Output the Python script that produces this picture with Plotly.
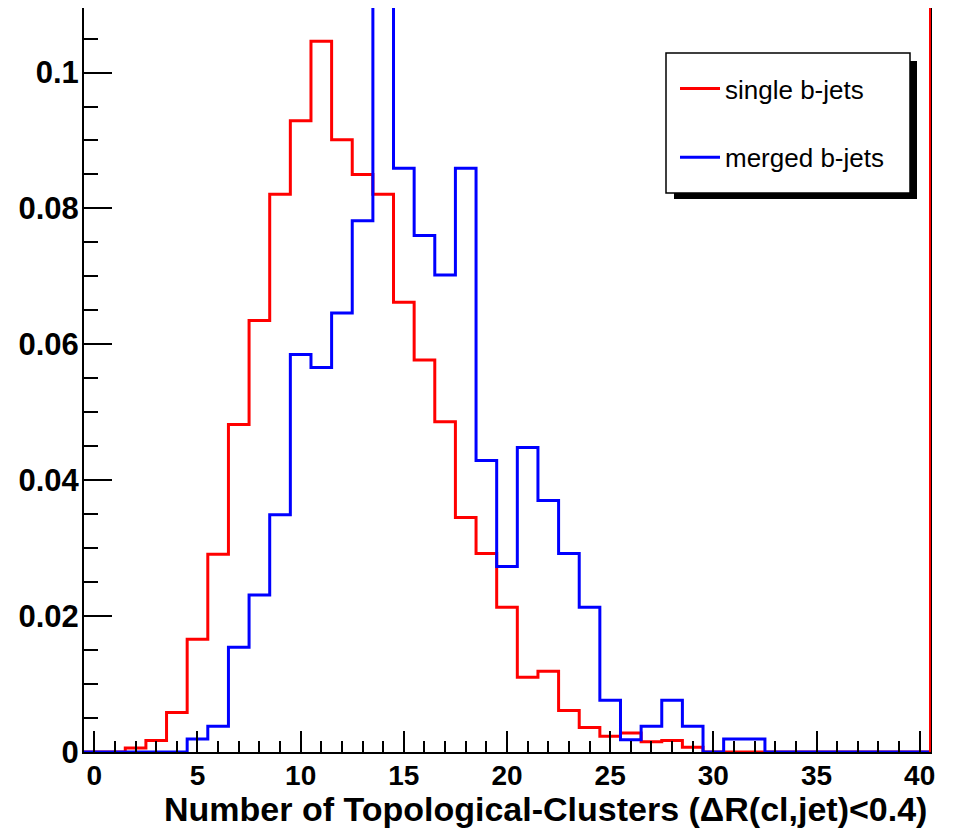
import plotly.graph_objects as go

# Bin centres 0..40 (unit-width bins from -0.5 to 40.5)
bin_centers = list(range(41))
single_bjets = [0, 0, 0.0006, 0.0017, 0.0058, 0.0166, 0.0291, 0.0482, 0.0635, 0.0821,
                0.0929, 0.1046, 0.0901, 0.0850, 0.0821, 0.0662, 0.0577, 0.0486, 0.0345, 0.0292,
                0.0213, 0.0110, 0.0119, 0.0061, 0.0036, 0.0023, 0.0028, 0.0015, 0.0017, 0.0007,
                0, 0, 0, 0, 0, 0, 0, 0, 0, 0, 0]
merged_bjets = [0, 0, 0, 0, 0, 0.0019, 0.0038, 0.0154, 0.0231, 0.0349,
                0.0585, 0.0566, 0.0646, 0.0782, 0.1250, 0.0859, 0.0760, 0.0702, 0.0859, 0.0429,
                0.0273, 0.0448, 0.0370, 0.0292, 0.0213, 0.0076, 0.0018, 0.0038, 0.0076, 0.0038,
                0, 0.0019, 0.0019, 0, 0, 0, 0, 0, 0, 0, 0]
y_tickvals = [0, 0.02, 0.04, 0.06, 0.08, 0.1]
y_ticktext = ["0", "0.02", "0.04", "0.06", "0.08", "0.1"]
x_tickvals = [0, 5, 10, 15, 20, 25, 30, 35, 40]
x_title = "Number of Topological-Clusters (\u0394R(cl,jet)<0.4)"
legend_names = ["single b-jets", "merged b-jets"]

FONT = "Liberation Sans, Arial, Helvetica, sans-serif"

def step(values):
    edges = [c - 0.5 for c in bin_centers] + [bin_centers[-1] + 0.5]
    return edges, list(values) + [values[-1]]

fig = go.Figure()
for vals, col, name, grp in [(single_bjets, "#ff0000", legend_names[0], "a"),
                             (merged_bjets, "#0000ff", legend_names[1], "b")]:
    xs, ys = step(vals)
    fig.add_trace(go.Scatter(x=xs, y=ys, mode="lines", line=dict(color=col, width=3, shape="hv"),
                             name=name, legendgroup=grp, cliponaxis=True))

# the page body has an 8px margin, so the figure is offset by 8px
OFF = 8
W, H = 953 - OFF, 832 - OFF
# target plot area in screen pixels
SX0, SX1, SY0, SY1 = 84, 930, 8, 752
L, R = SX0 - OFF, W - (SX1 - OFF)
T, B = SY0 - OFF, H - (SY1 - OFF)
pw, ph = SX1 - SX0, SY1 - SY0

def px(sx):
    return (sx - SX0) / pw

def py(sy):
    return (SY1 - sy) / ph

fig.update_layout(
    width=W, height=H,
    margin=dict(l=L, r=R, t=T, b=B, pad=0, autoexpand=False),
    paper_bgcolor="white", plot_bgcolor="white",
    font=dict(family=FONT, color="black"),
    showlegend=True,
    legend=dict(x=px(675), y=py(65), xanchor="left", yanchor="top",
                bgcolor="rgba(0,0,0,0)", borderwidth=0,
                font=dict(family=FONT, size=26, color="black"),
                tracegroupgap=32, itemwidth=40),
    xaxis=dict(range=[-0.5, 40.5], showgrid=False, zeroline=False, automargin=False,
               showline=True, linecolor="black", linewidth=2, mirror=True,
               ticks="inside", ticklen=21, tickwidth=1.5, tickcolor="black",
               tickvals=x_tickvals, ticklabelstandoff=-3,
               tickfont=dict(family=FONT, size=28, weight="bold"),
               minor=dict(dtick=1, ticks="inside", ticklen=11, tickwidth=1.5, tickcolor="black")),
    yaxis=dict(range=[0, 0.1095], showgrid=False, zeroline=False, automargin=False,
               showline=True, linecolor="black", linewidth=2, mirror=True,
               ticks="inside", ticklen=28, tickwidth=1.5, tickcolor="black",
               tickvals=y_tickvals, ticktext=y_ticktext, ticklabelstandoff=-3,
               tickfont=dict(family=FONT, size=31, weight="bold"),
               minor=dict(dtick=0.005, ticks="inside", ticklen=14, tickwidth=1.5, tickcolor="black")),
    shapes=[
        dict(type="rect", xref="paper", yref="paper", x0=px(674), x1=px(917), y0=py(199), y1=py(61),
             fillcolor="black", line=dict(width=0), layer="above"),
        dict(type="rect", xref="paper", yref="paper", x0=px(666), x1=px(910), y0=py(193), y1=py(53),
             fillcolor="white", line=dict(color="black", width=1.5), layer="above"),
        dict(type="line", xref="paper", yref="paper", x0=1, x1=1, y0=0, y1=1,
             line=dict(color="#ff0000", width=2), layer="above"),
    ],
    annotations=[
        dict(text=x_title, xref="paper", yref="paper", x=px(929), y=py(809),
             xanchor="right", yanchor="middle", showarrow=False,
             font=dict(family=FONT, size=34, weight="bold", color="black")),
    ],
)

fig.write_html("out.html")
